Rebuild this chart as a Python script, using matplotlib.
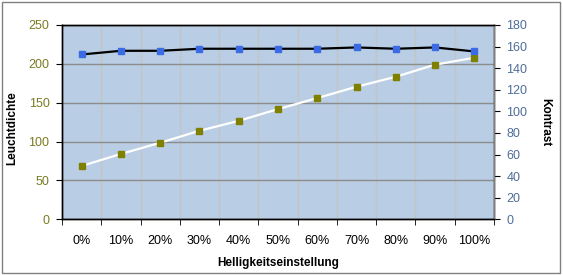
import matplotlib.pyplot as plt

plt.rcParams['font.family'] = ['Liberation Sans', 'DejaVu Sans']

# data
settings = ["0%", "10%", "20%", "30%", "40%", "50%", "60%", "70%", "80%", "90%", "100%"]
leuchtdichte = [68.6, 84.1, 98.5, 113.9, 126.7, 141.8, 156.0, 170.6, 183.4, 199.0, 207.9]
kontrast = [152.7, 156.1, 156.1, 158.0, 158.0, 158.0, 158.0, 159.2, 158.0, 159.2, 155.5]

x = list(range(len(settings)))

fig = plt.figure(figsize=(5.63, 2.75), dpi=100)
ax = fig.add_axes([62 / 563, 1 - 219.3 / 275, (494 - 62) / 563, (219.3 - 25) / 275])
ax.set_facecolor("#B9CDE5")

# white line, olive markers on the left axis
ax.plot(x, leuchtdichte, color="white", lw=1.6, marker="s", ms=4.5,
        mfc="#808000", mec="#808000", zorder=3)
ax.set_ylim(0, 250)
ax.set_yticks(range(0, 251, 50))
ax.set_xlim(-0.5, 10.5)
ax.set_xticks(x)
ax.set_xticklabels(settings)
ax.set_xticks([i - 0.5 for i in range(12)], minor=True)
ax.tick_params(axis="x", which="major", length=0, pad=11, labelsize=9)
ax.tick_params(axis="x", which="minor", length=4, direction="out")
ax.tick_params(axis="y", length=4, labelsize=9, labelcolor="#7A7A22", pad=5)
ax.grid(axis="y", color="#8C8C8C", lw=1, zorder=0)
ax.grid(axis="x", which="minor", color="#C4C4C4", lw=1, zorder=0)
ax.set_axisbelow(True)
ax.set_ylabel("Leuchtdichte", fontweight="bold", fontsize=8.5)
ax.yaxis.set_label_coords(-0.102, 0.47)
ax.set_xlabel("Helligkeitseinstellung", fontweight="bold", fontsize=8.5)
ax.xaxis.set_label_coords(0.5, -0.195)

# black line, blue markers on the right axis
ax2 = ax.twinx()
ax2.plot(x, kontrast, color="black", lw=1.6, marker="s", ms=4.5,
         mfc="#3A6BE3", mec="#3A6BE3", zorder=3)
ax2.set_ylim(0, 180)
ax2.set_yticks(range(0, 181, 20))
ax2.tick_params(axis="y", length=4, labelsize=9, labelcolor="#4F6D9A", pad=5)
ax2.set_ylabel("Kontrast", fontweight="bold", fontsize=8.5, rotation=-90, va="center")
ax2.yaxis.set_label_coords(1.118, 0.5)

for a in (ax, ax2):
    for s in a.spines.values():
        s.set_color("black")
        s.set_linewidth(1)
ax2.spines["right"].set_color("#808080")

# outer chart border
fig.patches.append(plt.Rectangle((0.003, 0.006), 0.992, 0.988, transform=fig.transFigure,
                                 fill=False, ec="#808080", lw=1))

fig.savefig("out.png", dpi=100)
